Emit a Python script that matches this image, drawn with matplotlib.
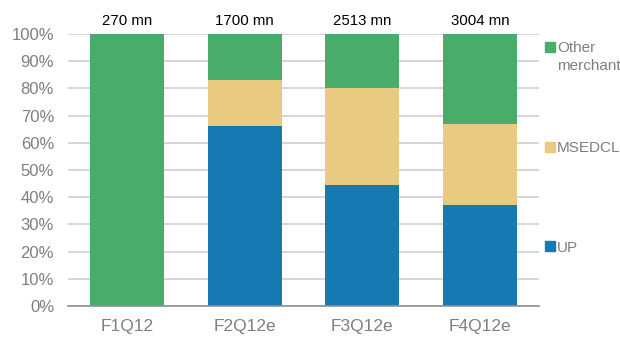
import matplotlib
matplotlib.use("Agg")
import matplotlib.pyplot as plt
from matplotlib.patches import Rectangle

categories = ["F1Q12", "F2Q12e", "F3Q12e", "F4Q12e"]
up = [0, 66, 44.5, 37]
msedcl = [0, 17, 35.5, 30]
other = [100, 17, 20, 33]
totals = ["270 mn", "1700 mn", "2513 mn", "3004 mn"]

c_up = "#1679b1"
c_ms = "#e8cb80"
c_ot = "#4aac6a"

plt.rcParams['font.family'] = ['Liberation Sans', 'DejaVu Sans']

fig = plt.figure(figsize=(6.2, 3.39), dpi=100)
ax = fig.add_axes([68/620, 1-306/339, (539-68)/620, (306-34)/339])

x = range(len(categories))
w = 0.627
ax.bar(x, up, w, color=c_up, zorder=3)
ax.bar(x, msedcl, w, bottom=up, color=c_ms, zorder=3)
bot2 = [a + b for a, b in zip(up, msedcl)]
ax.bar(x, other, w, bottom=bot2, color=c_ot, zorder=3)

ax.set_xlim(-0.5, 3.5)
ax.set_ylim(0, 100)
ax.set_yticks(range(0, 101, 10))
ax.set_yticklabels([f"{v}%" for v in range(0, 101, 10)])
ax.set_xticks(list(x))
ax.set_xticklabels(categories)
ax.grid(axis='y', color='#d0d0d0', linewidth=1.2, zorder=0)
for s in ['left', 'right', 'top']:
    ax.spines[s].set_visible(False)
ax.spines['bottom'].set_color('#909090')
ax.spines['bottom'].set_linewidth(1.2)
ax.spines['bottom'].set_zorder(4)
ax.tick_params(axis='both', length=0, labelcolor='#7f7f7f')
ax.tick_params(axis='y', pad=10, labelsize=12)
ax.tick_params(axis='x', pad=9, labelsize=12.5)

for i, t in enumerate(totals):
    ax.text(i, 104.8, t, ha='center', va='center', fontsize=10.8, color='black')

# legend
leg = [(c_ot, 47, ["Other", "merchant"]), (c_ms, 147, ["MSEDCL"]), (c_up, 246, ["UP"])]
for col, ypx, lines in leg:
    fig.patches.append(Rectangle((545/620, 1-(ypx+5)/339), 10/620, 10/339,
                                 transform=fig.transFigure, color=col))
    for k, name in enumerate(lines):
        fig.text(557/620, 1-(ypx + 17*k)/339, name, ha='left', va='center_baseline',
                 fontsize=11, color='#7f7f7f')

fig.savefig("out.png", dpi=100)
